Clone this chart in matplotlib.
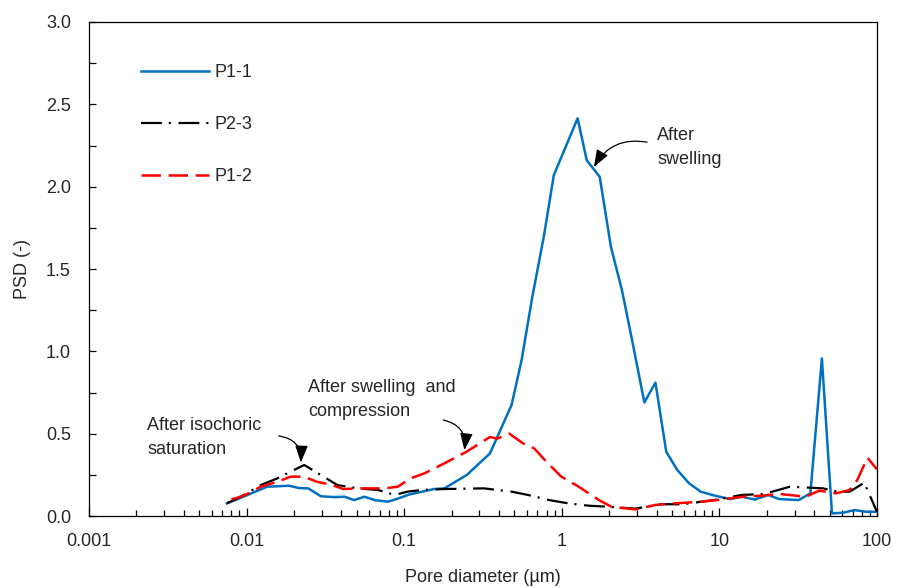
import matplotlib
matplotlib.use("Agg")
import matplotlib.pyplot as plt
from matplotlib.ticker import LogLocator, MultipleLocator, FixedLocator, FixedFormatter

plt.rcParams['font.family'] = ['Liberation Sans', 'DejaVu Sans']
plt.rcParams['lines.scale_dashes'] = False

# ---- data ----
d_p11 = [0.0075, 0.0101, 0.0135, 0.0186, 0.0215, 0.0246, 0.0296, 0.0358, 0.042, 0.048,
         0.056, 0.065, 0.0787, 0.092, 0.107, 0.119, 0.155, 0.18, 0.25, 0.35, 0.48, 0.556,
         0.65, 0.77, 0.89, 1.26, 1.44, 1.74, 2.05, 2.41, 2.79, 3.34, 3.93, 4.6, 5.4, 6.4,
         7.6, 9.4, 11.7, 13.9, 16.8, 20.4, 23.9, 31.9, 37.8, 44.7, 51.8, 61, 72, 85, 100]
psd_p11 = [0.077, 0.127, 0.178, 0.184, 0.17, 0.168, 0.12, 0.115, 0.117, 0.097,
           0.117, 0.097, 0.087, 0.107, 0.13, 0.14, 0.164, 0.168, 0.25, 0.38, 0.674, 0.947,
           1.33, 1.70, 2.07, 2.415, 2.16, 2.06, 1.635, 1.37, 1.07, 0.69, 0.81, 0.39, 0.28, 0.2,
           0.148, 0.123, 0.103, 0.117, 0.10, 0.128, 0.103, 0.097, 0.138, 0.957, 0.016, 0.02, 0.036, 0.026, 0.026]

d_p23 = [0.0075, 0.0096, 0.0123, 0.0157, 0.019, 0.0232, 0.0296, 0.0377, 0.0508, 0.0683,
         0.087, 0.105, 0.128, 0.18, 0.32, 0.48, 0.61, 0.83, 1.1, 1.47, 1.98, 2.93, 4.3,
         5.8, 9.2, 13.9, 19.2, 28, 45.6, 55.5, 67, 83, 100]
psd_p23 = [0.077, 0.127, 0.188, 0.229, 0.269, 0.31, 0.249, 0.188, 0.168, 0.158,
           0.128, 0.148, 0.158, 0.164, 0.168, 0.148, 0.128, 0.097, 0.077, 0.063, 0.056, 0.045, 0.072,
           0.071, 0.097, 0.128, 0.134, 0.178, 0.168, 0.148, 0.148, 0.202, 0.026]

d_p12 = [0.008, 0.0098, 0.0123, 0.0157, 0.019, 0.023, 0.028, 0.035, 0.041, 0.055, 0.0747,
         0.091, 0.11, 0.135, 0.18, 0.248, 0.35, 0.39, 0.465, 0.57, 0.67, 0.78, 0.99, 1.28,
         1.72, 2.07, 2.93, 3.9, 5.2, 7.7, 10.3, 13.9, 18.2, 24.3, 35.3, 43, 55, 67, 75, 87, 100]
psd_p12 = [0.1, 0.127, 0.178, 0.208, 0.239, 0.239, 0.208, 0.188, 0.164, 0.168, 0.168,
           0.178, 0.229, 0.26, 0.32, 0.39, 0.48, 0.47, 0.50, 0.44, 0.41, 0.34, 0.24, 0.178,
           0.097, 0.056, 0.04, 0.067, 0.077, 0.087, 0.10, 0.117, 0.123, 0.134, 0.117, 0.154, 0.138, 0.158, 0.219, 0.354, 0.283]

x_ticks = [0.001, 0.01, 0.1, 1, 10, 100]
x_tick_labels = ['0.001', '0.01', '0.1', '1', '10', '100']
y_ticks = [0.0, 0.5, 1.0, 1.5, 2.0, 2.5, 3.0]
y_tick_labels = ['0.0', '0.5', '1.0', '1.5', '2.0', '2.5', '3.0']

txt_color = '#262626'
fs = 13

fig = plt.figure(figsize=(8.98, 5.88), dpi=100)
ax = fig.add_axes([0.0991, 0.1224, 0.8775, 0.8402])

ax.plot(d_p11, psd_p11, color='#0070C0', lw=1.8, label='P1-1')
ax.plot(d_p23, psd_p23, color='black', lw=1.6, dashes=(15, 5, 1.5, 5.5), label='P2-3')
ax.plot(d_p12, psd_p12, color='#FF0000', lw=1.8, dashes=(14, 5.5), label='P1-2')

ax.set_xscale('log')
ax.set_xlim(0.001, 100)
ax.set_ylim(0, 3.0)
ax.xaxis.set_major_locator(FixedLocator(x_ticks))
ax.xaxis.set_major_formatter(FixedFormatter(x_tick_labels))
ax.xaxis.set_minor_locator(LogLocator(base=10, subs=range(2, 10)))
ax.yaxis.set_major_locator(FixedLocator(y_ticks))
ax.yaxis.set_major_formatter(FixedFormatter(y_tick_labels))
ax.yaxis.set_minor_locator(MultipleLocator(0.25))

ax.tick_params(which='both', direction='in', labelsize=fs, colors='black', labelcolor=txt_color)
ax.tick_params(axis='x', which='major', length=6, width=0.9, pad=12)
ax.tick_params(axis='x', which='minor', length=4, width=0.9)
ax.tick_params(axis='y', which='major', length=5, width=0.9, pad=13)
ax.tick_params(axis='y', which='minor', length=5, width=0.9)
ax.tick_params(top=False, right=False, which='both')
for s in ax.spines.values():
    s.set_linewidth(0.9)
    s.set_color('black')

ax.set_xlabel('Pore diameter (µm)', fontsize=fs, color=txt_color, labelpad=14)
ax.set_ylabel('PSD (-)', fontsize=fs, color=txt_color, labelpad=11)

leg = ax.legend(loc='upper left', bbox_to_anchor=(0.045, 0.948), frameon=False,
                fontsize=fs, handlelength=3.8, labelspacing=1.95, handletextpad=0.3)
for t in leg.get_texts():
    t.set_color(txt_color)

arrow_kw = dict(arrowstyle='-|>,head_length=0.8,head_width=0.3', color='black', lw=0.9,
                mutation_scale=13, shrinkA=0, shrinkB=0)

# annotations
ax.text(4.03, 2.24, 'After\nswelling', fontsize=fs, color=txt_color,
        ha='left', va='center', linespacing=1.55)
ax.annotate('', xy=(1.6, 2.12), xytext=(3.47, 2.27),
            arrowprops=dict(connectionstyle='arc3,rad=0.35', **arrow_kw))

ax.text(0.0245, 0.71, 'After swelling  and\ncompression', fontsize=fs, color=txt_color,
        ha='left', va='center', linespacing=1.55)
ax.annotate('', xy=(0.241, 0.40), xytext=(0.177, 0.583),
            arrowprops=dict(connectionstyle='arc3,rad=-0.45', **arrow_kw))

ax.text(0.00234, 0.475, 'After isochoric\nsaturation', fontsize=fs, color=txt_color,
        ha='left', va='center', linespacing=1.55)
ax.annotate('', xy=(0.0221, 0.325), xytext=(0.016, 0.486),
            arrowprops=dict(connectionstyle='arc3,rad=-0.45', **arrow_kw))

fig.savefig('out.png', dpi=100)
